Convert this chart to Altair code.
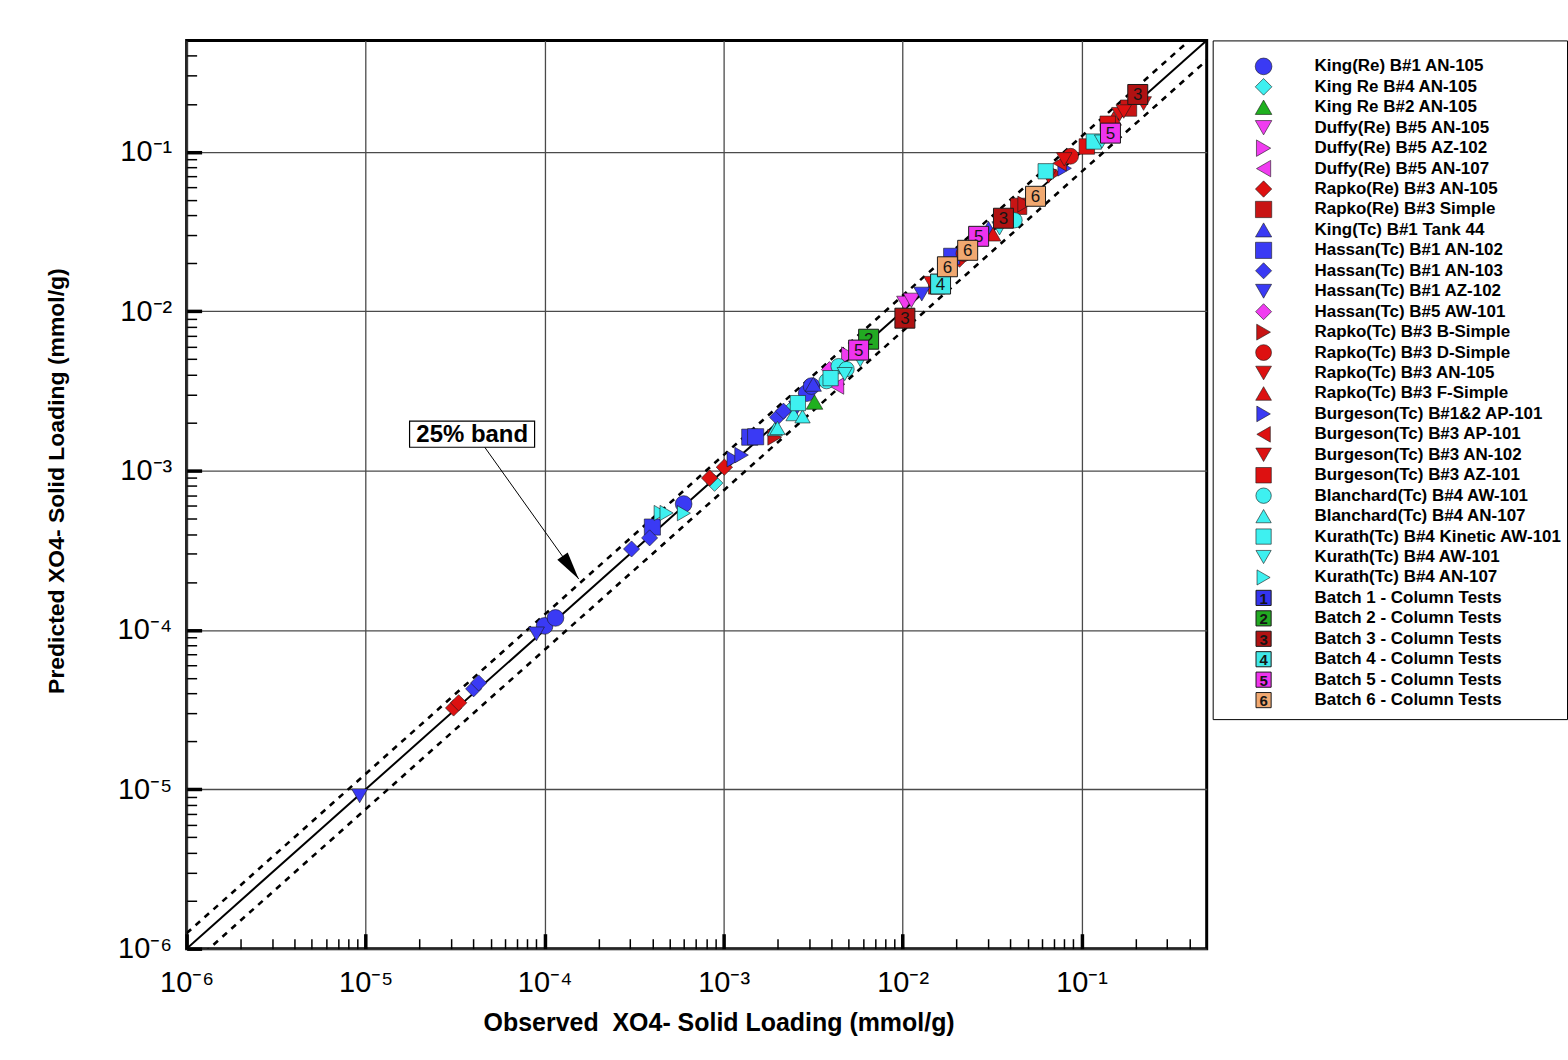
import altair as alt
import pandas as pd

FONT = "Liberation Sans"

# ---------------- axis text ----------------
X_TITLE = "Observed \u00a0XO4- Solid Loading (mmol/g)"
Y_TITLE = "Predicted XO4- Solid Loading (mmol/g)"
AXIS_DOMAIN = [1e-6, 0.5]
major_ticks = [1e-6, 1e-5, 1e-4, 1e-3, 1e-2, 1e-1]
minor_ticks = [m * d for d in [1e-6, 1e-5, 1e-4, 1e-3, 1e-2, 1e-1]
               for m in [2, 3, 4, 5, 6, 7, 8, 9] if m * d <= 0.5]
LABEL_EXPR = ("'10' + ['\u207b\u2076','\u207b\u2075','\u207b\u2074','\u207b\u00b3',"
              "'\u207b\u00b2','\u207b\u00b9'][round(log(datum.value)/LN10)+6]")

# ---------------- reference lines (1:1 and 25% band) ----------------
line_x = [1e-6, 0.5]
line_y = [1e-6, 0.5]
band_upper_y = [1.25e-6, 0.625]
band_lower_y = [0.75e-6, 0.375]

# ---------------- series (legend order) ----------------
series_names = [
    "King(Re) B#1 AN-105", "King Re B#4 AN-105", "King Re B#2 AN-105",
    "Duffy(Re) B#5 AN-105", "Duffy(Re) B#5 AZ-102", "Duffy(Re) B#5 AN-107",
    "Rapko(Re) B#3 AN-105", "Rapko(Re) B#3 Simple", "King(Tc) B#1 Tank 44",
    "Hassan(Tc) B#1 AN-102", "Hassan(Tc) B#1 AN-103", "Hassan(Tc) B#1 AZ-102",
    "Hassan(Tc) B#5 AW-101", "Rapko(Tc) B#3 B-Simple", "Rapko(Tc) B#3 D-Simple",
    "Rapko(Tc) B#3 AN-105", "Rapko(Tc) B#3 F-Simple", "Burgeson(Tc) B#1&2 AP-101",
    "Burgeson(Tc) B#3 AP-101", "Burgeson(Tc) B#3 AN-102", "Burgeson(Tc) B#3 AZ-101",
    "Blanchard(Tc) B#4 AW-101", "Blanchard(Tc) B#4 AN-107",
    "Kurath(Tc) B#4 Kinetic AW-101", "Kurath(Tc) B#4 AW-101", "Kurath(Tc) B#4 AN-107",
]
BLUE, CYAN, GREEN, MAG, RED, DRED = "#3a3af4", "#3ef0f0", "#1fb01f", "#f03cf0", "#dd1111", "#c81414"
series_colors = [BLUE, CYAN, GREEN, MAG, MAG, MAG, RED, DRED, BLUE, BLUE, BLUE, BLUE, MAG,
                 DRED, RED, RED, RED, BLUE, RED, RED, RED, CYAN, CYAN, CYAN, CYAN, CYAN]
series_shapes = ["circle", "diamond", "triangle-up", "triangle-down", "triangle-right",
                 "triangle-left", "diamond", "square", "triangle-up", "square", "diamond",
                 "triangle-down", "diamond", "triangle-right", "circle", "triangle-down",
                 "triangle-up", "triangle-right", "triangle-left", "triangle-down", "square",
                 "circle", "triangle-up", "square", "triangle-down", "triangle-right"]
size_by_shape = {"circle": 280, "diamond": 230, "square": 125, "triangle-up": 200,
                 "triangle-down": 200, "triangle-right": 200, "triangle-left": 200}
series_sizes = [size_by_shape[s] for s in series_shapes]

# observed (x) / predicted (y) values per series
king_re_b1 = ([1.00e-4, 1.15e-4, 5.98e-4, 2.91e-3, 3.10e-3], [1.06e-4, 1.19e-4, 6.17e-4, 3.06e-3, 3.39e-3])
king_re_b4 = ([8.9e-4, 2.45e-3], [8.35e-4, 2.50e-3])
king_re_b2 = ([3.22e-3], [2.69e-3])
duffy_an105 = ([1.03e-2, 1.12e-2], [1.12e-2, 1.17e-2])
duffy_az102 = ([5.0e-3], [5.3e-3])
duffy_an107 = ([4.28e-3], [3.39e-3])
rapko_re_an105 = ([3.10e-5, 3.31e-5, 8.35e-4, 1.01e-3, 2.08e-2], [3.24e-5, 3.49e-5, 8.98e-4, 1.05e-3, 2.12e-2])
rapko_re_simple = ([1.55e-2, 4.45e-2, 0.183], [1.44e-2, 4.55e-2, 0.188])
king_tc_t44 = ([3.17e-3, 3.02e-2], [3.48e-3, 3.31e-2])
hassan_an102 = ([4.0e-4, 1.40e-3, 1.51e-3, 1.88e-2], [4.42e-4, 1.62e-3, 1.63e-3, 2.21e-2])
hassan_an103 = ([4.01e-5, 4.28e-5, 3.06e-4, 3.86e-4, 2.0e-3, 2.16e-3], [4.27e-5, 4.65e-5, 3.22e-4, 3.78e-4, 2.16e-3, 2.36e-3])
hassan_az102 = ([9.26e-6, 9.0e-5, 2.56e-3, 1.28e-2], [9.1e-6, 9.44e-5, 2.47e-3, 1.28e-2])
hassan_aw101 = ([3.9e-3], [4.3e-3])
rapko_tc_b = ([1.93e-3, 4.81e-2, 7.06e-2], [1.62e-3, 4.70e-2, 7.33e-2])
rapko_tc_d = ([2.2e-2, 8.68e-2], [2.3e-2, 9.38e-2])
rapko_tc_an105 = ([6.54e-2, 0.163, 0.222], [7.02e-2, 0.172, 0.201])
rapko_tc_f = ([3.2e-2, 0.151], [3.04e-2, 0.162])
burg_b12 = ([1.14e-3, 1.26e-3, 8.04e-2], [1.18e-3, 1.25e-3, 7.88e-2])
burg_ap101 = ([1.6e-2, 7.54e-2], [1.55e-2, 8.47e-2])
burg_an102 = ([1.45e-2, 8.0e-2, 0.172], [1.50e-2, 8.97e-2, 0.179])
burg_az101 = ([0.107, 0.14], [0.108, 0.15])
blan_aw101 = ([3.76e-3, 4.39e-3, 4.86e-3, 4.22e-2], [3.64e-3, 4.52e-3, 4.33e-3, 3.72e-2])
blan_an107 = ([1.93e-3, 2.0e-3, 2.46e-3, 2.76e-3], [1.82e-3, 1.85e-3, 2.26e-3, 2.19e-3])
kur_kin = ([2.6e-3, 3.96e-3, 6.3e-2, 0.117], [2.65e-3, 3.8e-3, 7.55e-2, 0.116])
kur_aw101 = ([4.75e-3, 5.8e-3, 3.48e-2, 0.13], [4.03e-3, 4.93e-3, 3.31e-2, 0.116])
kur_an107 = ([4.45e-4, 4.8e-4, 6.0e-4], [5.42e-4, 5.42e-4, 5.40e-4])

series_points = [king_re_b1, king_re_b4, king_re_b2, duffy_an105, duffy_az102, duffy_an107,
                 rapko_re_an105, rapko_re_simple, king_tc_t44, hassan_an102, hassan_an103,
                 hassan_az102, hassan_aw101, rapko_tc_b, rapko_tc_d, rapko_tc_an105, rapko_tc_f,
                 burg_b12, burg_ap101, burg_an102, burg_az101, blan_aw101, blan_an107,
                 kur_kin, kur_aw101, kur_an107]

# ---------------- column-test batches ----------------
batch_ids = ["1", "2", "3", "4", "5", "6"]
batch_labels = ["Batch 1 - Column Tests", "Batch 2 - Column Tests", "Batch 3 - Column Tests",
                "Batch 4 - Column Tests", "Batch 5 - Column Tests", "Batch 6 - Column Tests"]
batch_colors = ["#3434ee", "#22aa22", "#b01212", "#40e8e8", "#ee33ee", "#f0a870"]
batch2 = ([6.46e-3], [6.67e-3])
batch3 = ([1.03e-2, 3.66e-2, 0.206], [9.04e-3, 3.83e-2, 0.229])
batch4 = ([1.63e-2], [1.48e-2])
batch5 = ([5.68e-3, 2.66e-2, 0.145], [5.70e-3, 2.95e-2, 0.131])
batch6 = ([1.78e-2, 2.31e-2, 5.53e-2], [1.90e-2, 2.41e-2, 5.26e-2])
plotted_batches = ["2", "3", "4", "5", "6"]
batch_points = [batch2, batch3, batch4, batch5, batch6]

# ---------------- annotation ----------------
ann_text = "25% band"
ann_box_x = [1.76e-5, 8.79e-5]
ann_box_y = [1.40e-3, 2.04e-3]
ann_text_xy = (3.94e-5, 1.69e-3)
arrow_start = (4.63e-5, 1.40e-3)
arrow_end = (1.55e-4, 2.09e-4)

# ---------------- tables ----------------
pts_df = pd.DataFrame([{"series": n, "x": a, "y": b}
                       for n, (xs, ys) in zip(series_names, series_points)
                       for a, b in zip(xs, ys)])
bat_df = pd.DataFrame([{"batch": n, "x": a, "y": b}
                       for n, (xs, ys) in zip(plotted_batches, batch_points)
                       for a, b in zip(xs, ys)])
solid_df = pd.DataFrame({"x": line_x, "y": line_y})
up_df = pd.DataFrame({"x": line_x, "y": band_upper_y})
lo_df = pd.DataFrame({"x": line_x, "y": band_lower_y})
box_df = pd.DataFrame({"x": [ann_box_x[0]], "x2": [ann_box_x[1]],
                       "y": [ann_box_y[0]], "y2": [ann_box_y[1]]})
txt_df = pd.DataFrame({"x": [ann_text_xy[0]], "y": [ann_text_xy[1]], "t": [ann_text]})
arr_df = pd.DataFrame({"x": [arrow_start[0]], "y": [arrow_start[1]],
                       "x2": [arrow_end[0]], "y2": [arrow_end[1]]})
head_df = pd.DataFrame({"x": [arrow_end[0]], "y": [arrow_end[1]]})

xsc = alt.Scale(type="log", domain=AXIS_DOMAIN, nice=False)
ysc = alt.Scale(type="log", domain=AXIS_DOMAIN, nice=False)
color_scale = alt.Scale(domain=series_names, range=series_colors)
shape_scale = alt.Scale(domain=series_names, range=series_shapes)
size_scale = alt.Scale(domain=series_names, range=series_sizes)
batch_scale = alt.Scale(domain=batch_ids, range=batch_colors)

main_x_axis = alt.Axis(values=major_ticks, labelExpr=LABEL_EXPR, grid=True, gridColor="#4a4a4a",
                       gridWidth=1.3, gridOpacity=1, ticks=False, tickSize=0, domain=False,
                       labelFont=FONT, labelFontSize=29, labelColor="black", labelPadding=20,
                       labelFlush=False, title=X_TITLE, titleFont=FONT, titleFontSize=25,
                       titleFontWeight="bold", titleColor="black", titleX=533, titleY=74,
                       titleAlign="center", titleBaseline="middle", orient="bottom")
main_y_axis = alt.Axis(values=major_ticks, labelExpr=LABEL_EXPR, grid=True, gridColor="#4a4a4a",
                       gridWidth=1.3, gridOpacity=1, ticks=False, tickSize=0, domain=False,
                       labelFont=FONT, labelFontSize=29, labelColor="black", labelPadding=15,
                       labelFlush=False, title=Y_TITLE, titleFont=FONT, titleFontSize=23,
                       titleFontWeight="bold", titleColor="black", titleX=-130, titleY=441,
                       titleAngle=270, titleAlign="center", titleBaseline="middle", orient="left")


def tick_axis(values, size, width, orient):
    return alt.Axis(values=values, orient=orient, offset=-size, tickSize=size, tickWidth=width,
                    tickColor="black", ticks=True, labels=False, domain=False, grid=False, title=None)


solid = alt.Chart(solid_df).mark_line(color="black", strokeWidth=2, clip=True).encode(
    x=alt.X("x:Q", scale=xsc, axis=main_x_axis),
    y=alt.Y("y:Q", scale=ysc, axis=main_y_axis))
upper = alt.Chart(up_df).mark_line(color="black", strokeWidth=2.6, strokeDash=[6, 6], clip=True).encode(
    x=alt.X("x:Q", scale=xsc, axis=tick_axis(minor_ticks, 10, 1.5, "bottom")),
    y=alt.Y("y:Q", scale=ysc, axis=tick_axis(minor_ticks, 10, 1.5, "left")))
lower = alt.Chart(lo_df).mark_line(color="black", strokeWidth=2.6, strokeDash=[6, 6], clip=True).encode(
    x=alt.X("x:Q", scale=xsc, axis=tick_axis(major_ticks, 15, 3.5, "bottom")),
    y=alt.Y("y:Q", scale=ysc, axis=tick_axis(major_ticks, 15, 3.5, "left")))

points = alt.Chart(pts_df).mark_point(filled=True, opacity=1, stroke="#1a1a1a", strokeWidth=0.6).encode(
    x=alt.X("x:Q", scale=xsc, axis=None),
    y=alt.Y("y:Q", scale=ysc, axis=None),
    color=alt.Color("series:N", scale=color_scale, legend=None),
    shape=alt.Shape("series:N", scale=shape_scale, legend=None),
    size=alt.Size("series:N", scale=size_scale, legend=None))

# one box + number layer per batch, so each number sits above its own box only
batch_layers = []
for bid in plotted_batches:
    sub = bat_df[bat_df["batch"] == bid]
    batch_layers.append(
        alt.Chart(sub).mark_point(shape="square", filled=True, opacity=1, size=400,
                                  stroke="#1a1a1a", strokeWidth=1).encode(
            x=alt.X("x:Q", scale=xsc, axis=None),
            y=alt.Y("y:Q", scale=ysc, axis=None),
            fill=alt.Fill("batch:N", scale=batch_scale, legend=None)))
    batch_layers.append(
        alt.Chart(sub).mark_text(font=FONT, fontSize=17, color="#151515", dy=1).encode(
            x=alt.X("x:Q", scale=xsc, axis=None),
            y=alt.Y("y:Q", scale=ysc, axis=None),
            text="batch:N"))

box = alt.Chart(box_df).mark_rect(fill="white", stroke="black", strokeWidth=1.2).encode(
    x=alt.X("x:Q", scale=xsc, axis=None), x2="x2:Q",
    y=alt.Y("y:Q", scale=ysc, axis=None), y2="y2:Q")
box_text = alt.Chart(txt_df).mark_text(font=FONT, fontSize=24, fontWeight="bold", color="black",
                                       baseline="middle", dy=1).encode(
    x=alt.X("x:Q", scale=xsc, axis=None),
    y=alt.Y("y:Q", scale=ysc, axis=None),
    text="t:N")
arrow = alt.Chart(arr_df).mark_rule(color="black", strokeWidth=1).encode(
    x=alt.X("x:Q", scale=xsc, axis=None), x2="x2:Q",
    y=alt.Y("y:Q", scale=ysc, axis=None), y2="y2:Q")
head = alt.Chart(head_df).mark_point(shape="M0,0L-0.4,-1.75L0.4,-1.75Z", filled=True, opacity=1,
                                     color="black", size=1024, angle=324.6).encode(
    x=alt.X("x:Q", scale=xsc, axis=None),
    y=alt.Y("y:Q", scale=ysc, axis=None))

main = alt.layer(solid, upper, lower, points, *batch_layers, box, box_text, arrow, head).resolve_axis(
    x="independent", y="independent").properties(
    width=1022, height=910, view=alt.ViewBackground(stroke="black", strokeWidth=3, fill="white"))

# ---------------- legend panel ----------------
leg_sym_df = pd.DataFrame({"row": list(range(len(series_names))), "series": series_names})
leg_bat_df = pd.DataFrame({"row": list(range(len(series_names), len(series_names) + len(batch_ids))),
                           "batch": batch_ids})
legend_labels = series_names + batch_labels
leg_txt_df = pd.DataFrame({"row": list(range(len(legend_labels))), "label": legend_labels})
leg_y = alt.Scale(domain=[-1.27, 31.93], reverse=True, nice=False, zero=False)

leg_sym = alt.Chart(leg_sym_df).mark_point(filled=True, opacity=1, stroke="#1a1a1a", strokeWidth=0.6).encode(
    x=alt.value(51),
    y=alt.Y("row:Q", scale=leg_y, axis=None),
    color=alt.Color("series:N", scale=color_scale, legend=None),
    shape=alt.Shape("series:N", scale=shape_scale, legend=None),
    size=alt.Size("series:N", scale=size_scale, legend=None))
leg_bat = alt.Chart(leg_bat_df).mark_point(shape="square", filled=True, opacity=1, size=230,
                                           stroke="#1a1a1a", strokeWidth=1).encode(
    x=alt.value(51),
    y=alt.Y("row:Q", scale=leg_y, axis=None),
    fill=alt.Fill("batch:N", scale=batch_scale, legend=None))
leg_bat_txt = alt.Chart(leg_bat_df).mark_text(font=FONT, fontSize=15, fontWeight="bold",
                                              color="#151515", dy=1).encode(
    x=alt.value(51),
    y=alt.Y("row:Q", scale=leg_y, axis=None),
    text="batch:N")
leg_txt = alt.Chart(leg_txt_df).mark_text(font=FONT, fontSize=17, fontWeight="bold", color="black",
                                          align="left", baseline="middle").encode(
    x=alt.value(102),
    y=alt.Y("row:Q", scale=leg_y, axis=None),
    text="label:N")

legend = alt.layer(leg_sym, leg_bat, leg_bat_txt, leg_txt).properties(
    width=355, height=680, view=alt.ViewBackground(stroke="black", strokeWidth=1, fill="white"))

chart = alt.hconcat(main, legend, spacing=2).properties(
    padding={"left": 44, "top": 36.5, "right": 0, "bottom": 5}, background="white")

chart.save("out.html", embed_options={"renderer": "svg", "actions": False})
